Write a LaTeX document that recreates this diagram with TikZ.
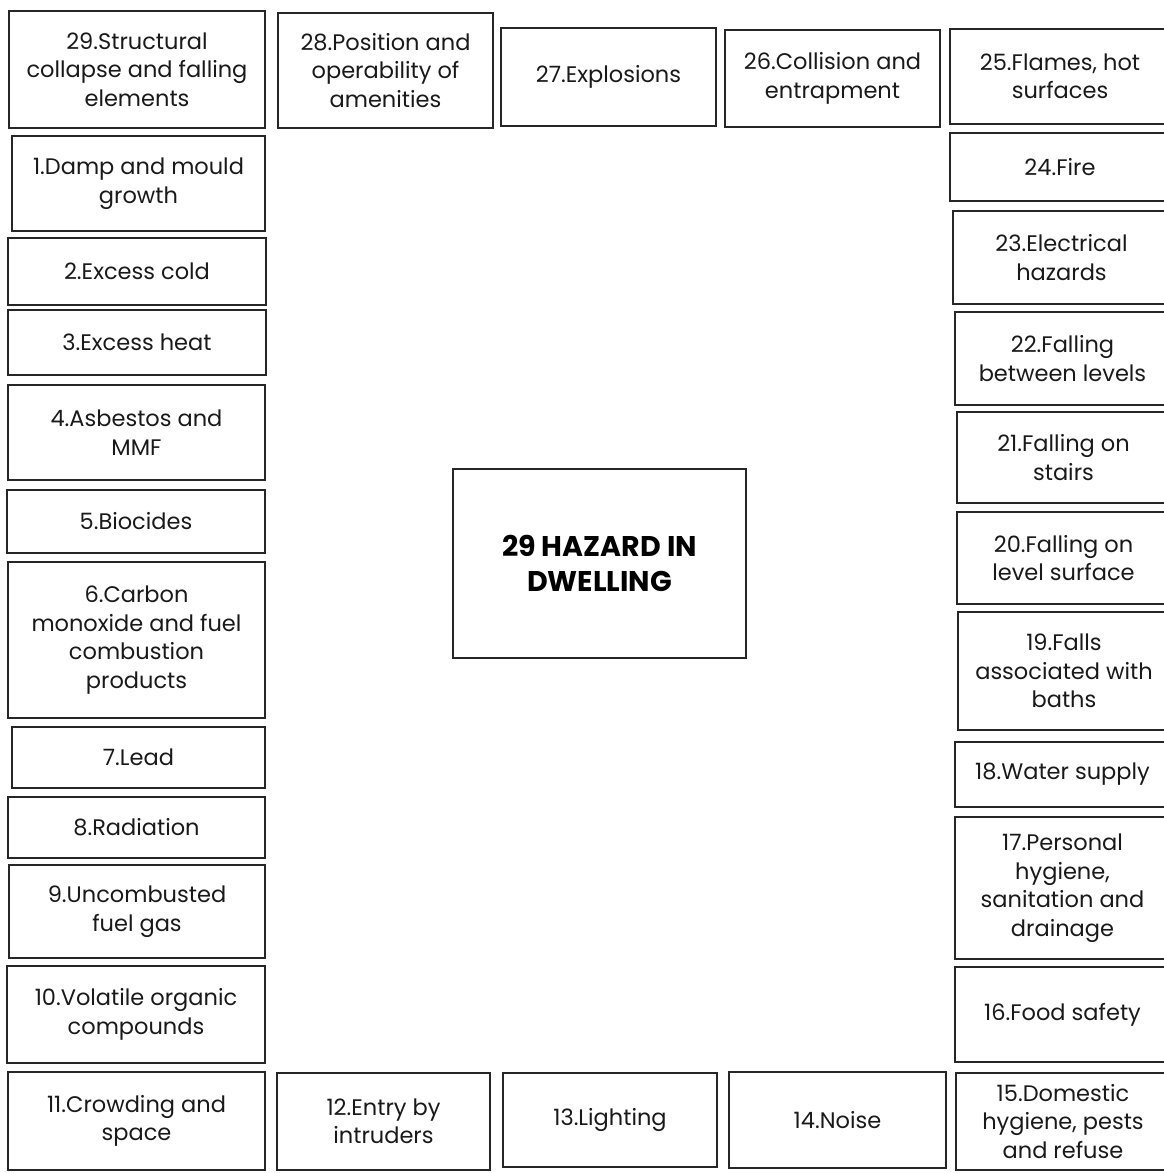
\documentclass[tikz,border=0pt]{standalone}
\usepackage{fontspec}
\setmainfont{Poppins}
\begin{document}
\begin{tikzpicture}[x=1pt,y=-1pt,
  hz/.style={draw=black!85, line width=1.2pt, rectangle, inner sep=2pt, outer sep=0pt,
    align=center, font=\fontsize{22.5}{28.5}\selectfont, text=black!90},
  hzmain/.style={hz, font=\fontsize{28.5}{35}\selectfont\bfseries, text=black}]
\clip (0,0) rectangle (1164,1173);
\useasboundingbox (0,0) rectangle (1164,1173);
\newcommand\hzb[7][hz]{\node[#1, minimum width={(#5-#3)*1pt}, minimum height={(#6-#4)*1pt}] (#2) at ({(#3+#5)/2},{(#4+#6)/2}) {#7};}
% left column
\hzb{b29}{9}{11}{265}{128}{29.Structural\\collapse and falling\\elements}
\hzb{b1}{12}{136}{265}{231}{1.Damp and mould\\growth}
\hzb{b2}{8}{238}{266}{305}{2.Excess cold}
\hzb{b3}{8}{310}{266}{375}{3.Excess heat}
\hzb{b4}{8}{385}{265}{480}{4.Asbestos and\\MMF}
\hzb{b5}{7}{490}{265}{553}{5.Biocides}
\hzb{b6}{8}{562}{265}{718}{6.Carbon\\monoxide and fuel\\combustion\\products}
\hzb{b7}{12}{727}{265}{788}{7.Lead}
\hzb{b8}{8}{797}{265}{858}{8.Radiation}
\hzb{b9}{9}{865}{265}{958}{9.Uncombusted\\fuel gas}
\hzb{b10}{7}{966}{265}{1063}{10.Volatile organic\\compounds}
\hzb{b11}{8}{1072}{265}{1170}{11.Crowding and\\space}
% bottom row
\hzb{b12}{277}{1073}{490}{1170}{12.Entry by\\intruders}
\hzb{b13}{503}{1073}{717}{1167}{13.Lighting}
\hzb{b14}{729}{1072}{946}{1168}{14.Noise}
% right column
\hzb{b15}{956}{1073}{1170}{1170}{15.Domestic\\hygiene, pests\\and refuse}
\hzb{b16}{955}{967}{1170}{1062}{16.Food safety}
\hzb{b17}{955}{817}{1170}{959}{17.Personal\\hygiene,\\sanitation and\\drainage}
\hzb{b18}{955}{742}{1170}{807}{18.Water supply}
\hzb{b19}{958}{612}{1170}{730}{19.Falls\\associated with\\baths}
\hzb{b20}{957}{512}{1170}{604}{20.Falling on\\level surface}
\hzb{b21}{957}{412}{1170}{503}{21.Falling on\\stairs}
\hzb{b22}{955}{312}{1170}{405}{22.Falling\\between levels}
\hzb{b23}{953}{211}{1170}{304}{23.Electrical\\hazards}
\hzb{b24}{950}{133}{1170}{201}{24.Fire}
\hzb{b25}{950}{29}{1170}{124}{25.Flames, hot\\surfaces}
% top row
\hzb{b26}{725}{30}{940}{127}{26.Collision and\\entrapment}
\hzb{b27}{501}{28}{716}{126}{27.Explosions}
\hzb{b28}{278}{13}{493}{128}{28.Position and\\operability of\\amenities}
% centre
\hzb[hzmain]{main}{453}{469}{746}{658}{29 HAZARD IN\\DWELLING}
\end{tikzpicture}
\end{document}
